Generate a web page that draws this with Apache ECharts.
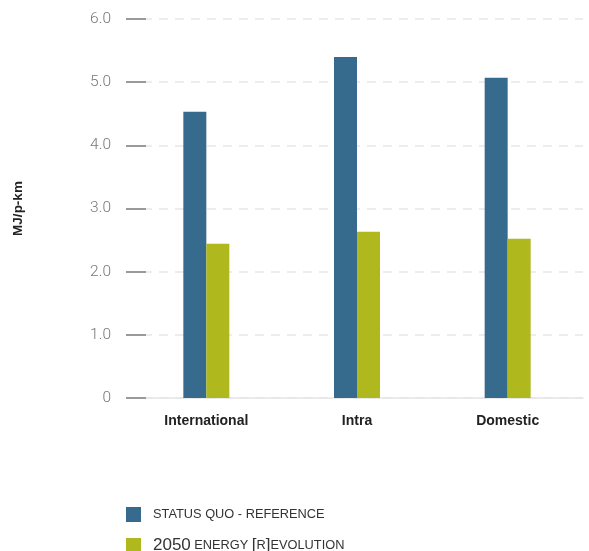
<!DOCTYPE html>
<html>
<head>
<meta charset="utf-8">
<script src="https://cdn.jsdelivr.net/npm/echarts@6/dist/echarts.min.js"></script>
<style>html,body{margin:0;padding:0;background:#fff}#c{width:589px;height:551px}</style>
</head>
<body>
<div id="c"></div>
<script>
var categories = ['International', 'Intra', 'Domestic'];
var statusQuo = [4.53, 5.40, 5.07];
var energyRevolution = [2.44, 2.63, 2.52];
var seriesNames = ['Status Quo - Reference', '2050 Energy [R]evolution'];
var yTicks = [0, 1, 2, 3, 4, 5, 6];
var yAxisName = 'MJ/p-km';

var chart = echarts.init(document.getElementById('c'));
var yMin = yTicks[0], yMax = yTicks[yTicks.length - 1], yInt = yTicks[1] - yTicks[0];
chart.setOption({
  animation: false,
  grid: { left: 131, right: 6, top: 19, bottom: 153 },
  xAxis: {
    type: 'category',
    data: categories,
    axisLine: { lineStyle: { color: '#e6e6e6', width: 1.5 } },
    axisTick: { show: false },
    axisLabel: { margin: 16, fontSize: 14, fontWeight: 'bold', color: '#222', fontFamily: 'Liberation Sans' }
  },
  yAxis: [{
    type: 'value', min: yMin, max: yMax, interval: yInt, position: 'left',
    name: yAxisName, nameLocation: 'middle', nameGap: 106, nameRotate: 90,
    nameTextStyle: { fontSize: 13.5, fontWeight: 'bold', color: '#222', fontFamily: 'Liberation Sans' },
    axisLine: { show: false },
    axisTick: { show: true, length: 5, lineStyle: { color: '#9a9a9a', width: 2 } },
    axisLabel: { margin: 20, fontSize: 15.5, color: '#777', fontFamily: 'Roboto', fontWeight: 300,
      formatter: function (v) { return v === 0 ? '0' : v.toFixed(1); } },
    splitLine: { show: true, lineStyle: { color: '#e8e8e8', width: 1.5, type: [9, 7], dashOffset: -12 } }
  }, {
    type: 'value', min: yMin, max: yMax, interval: yInt, position: 'left',
    axisLine: { show: false },
    axisTick: { show: true, inside: true, length: 15, lineStyle: { color: '#9a9a9a', width: 2 } },
    axisLabel: { show: false },
    splitLine: { show: false }
  }],
  legend: {
    orient: 'vertical', left: 126, top: 507, height: 80, itemWidth: 15, itemHeight: 15, itemGap: 15,
    padding: [0, 5, 0, 0],
    icon: 'rect',
    formatter: function (name) {
      if (name === seriesNames[0]) return '{s|' + name.toUpperCase() + '}';
      return '{b|2050} {s|ENERGY }{b|[}{s|R}{b|]}{s|EVOLUTION}';
    },
    textStyle: {
      padding: [0, 0, 0, 7],
      rich: {
        s: { fontSize: 12.8, color: '#333', fontFamily: 'Liberation Sans' },
        b: { fontSize: 17, color: '#333', fontFamily: 'Liberation Sans' }
      }
    }
  },
  series: [{
    name: seriesNames[0], type: 'bar', data: statusQuo, barWidth: 23, barGap: '0%',
    itemStyle: { color: '#376b8e' }
  }, {
    name: seriesNames[1], type: 'bar', data: energyRevolution, barWidth: 23,
    itemStyle: { color: '#afb91e' }
  }]
});
</script>
</body>
</html>
